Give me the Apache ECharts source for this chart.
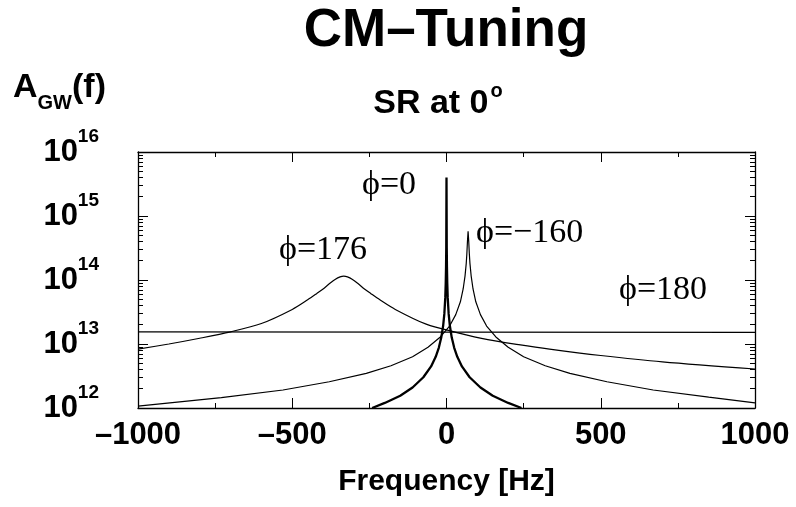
<!DOCTYPE html>
<html><head><meta charset="utf-8">
<script src="https://cdn.jsdelivr.net/npm/echarts@6/dist/echarts.min.js"></script>
<style>html,body{margin:0;padding:0;background:#fff}#c{width:796px;height:507px}</style>
</head><body><div id="c"></div>
<script>
// ---- data ----
const freq180 = [-1000, 0, 1000];
const amp180  = [1.55e13, 1.53e13, 1.52e13];

const freq176 = [-1000, -900, -800, -700, -600, -500, -450, -420, -400, -380, -360, -345, -333, -321, -306, -286, -266, -246, -216, -166, -66, 34, 134, 234, 334, 500, 700, 1000];
const amp176  = [8.32e12, 1.0e13, 1.23e13, 1.55e13, 2.09e13, 3.47e13, 4.90e13, 6.17e13, 7.24e13, 8.71e13, 1.03e14, 1.12e14, 1.15e14, 1.12e14, 1.03e14, 8.71e13, 7.24e13, 6.17e13, 4.90e13, 3.47e13, 2.04e13, 1.51e13, 1.17e13, 9.77e12, 8.32e12, 6.61e12, 5.25e12, 4.07e12];

const freq0 = [-241, -200, -150, -110, -75, -50, -35, -25, -17, -11, -7, -4, -2.5, -1.5, -0.8, 0, 0.8, 1.5, 2.5, 4, 7, 11, 17, 25, 35, 50, 75, 110, 150, 200, 243];
const amp0  = [1.0e12, 1.20e12, 1.55e12, 2.09e12, 3.02e12, 4.47e12, 6.31e12, 8.71e12, 1.26e13, 1.91e13, 2.95e13, 5.25e13, 8.91e13, 1.58e14, 3.16e14, 3.98e15, 3.16e14, 1.58e14, 8.91e13, 5.25e13, 2.95e13, 1.91e13, 1.26e13, 8.71e12, 6.31e12, 4.47e12, 3.02e12, 2.09e12, 1.55e12, 1.20e12, 1.0e12];

const freqM160 = [-1000, -730, -530, -380, -260, -180, -110, -60, -20, 10, 30, 45, 54, 60, 64, 66, 68, 70, 72, 74, 76, 80, 86, 95, 110, 130, 160, 200, 250, 320, 400, 520, 670, 850, 1000];
const ampM160  = [1.07e12, 1.45e12, 1.91e12, 2.57e12, 3.47e12, 4.57e12, 6.31e12, 8.91e12, 1.29e13, 1.91e13, 2.88e13, 4.57e13, 7.24e13, 1.15e14, 1.82e14, 2.57e14, 4.07e14, 5.75e14, 4.07e14, 2.57e14, 1.82e14, 1.15e14, 7.24e13, 4.57e13, 2.88e13, 1.91e13, 1.29e13, 8.91e12, 6.31e12, 4.57e12, 3.47e12, 2.57e12, 1.91e12, 1.48e12, 1.20e12];

const xTickLabels = {'-1000':'\u20131000','-500':'\u2013500','0':'0','500':'500','1000':'1000'};
const yExponents = [12, 13, 14, 15, 16];
const curveLabels = ['\u03D5=0', '\u03D5=176', '\u03D5=\u2212160', '\u03D5=180'];

// minor log tick positions (log10 space) for helper axes
const minorLog = [];
for (let e = yExponents[0]; e < yExponents[yExponents.length - 1]; e++) {
  for (let m = 2; m <= 9; m++) minorLog.push(e + Math.log10(m));
}

const zip = (xs, ys) => xs.map((x, i) => [x, ys[i]]);

const SANS = '"Liberation Sans", Arial, Helvetica, sans-serif';
const SERIF = '"Liberation Serif", "Times New Roman", "DejaVu Serif", serif';

const chart = echarts.init(document.getElementById('c'), null, {renderer: 'canvas'});

const lineBase = {type: 'line', showSymbol: false, symbol: 'none', xAxisIndex: 0, yAxisIndex: 0,
  lineStyle: {color: '#000', width: 1.2}, animation: false, silent: true, clip: true};

const yMajor = (pos, showLabel) => ({
  type: 'log', logBase: 10, min: 1e12, max: 1e16, position: pos,
  axisLine: {show: true, onZero: false, lineStyle: {color: '#000', width: 1.3}},
  axisTick: {show: true, inside: true, length: 10, lineStyle: {color: '#000', width: 1}},
  splitLine: {show: false},
  axisLabel: showLabel ? {
    show: true, margin: 39, align: 'right',
    formatter: v => '{b|10}{s|' + Math.round(Math.log10(v)) + '}',
    rich: {
      b: {fontFamily: SANS, fontWeight: 'bold', fontSize: 31, lineHeight: 31, color: '#000', verticalAlign: 'middle'},
      s: {fontFamily: SANS, fontWeight: 'bold', fontSize: 19, lineHeight: 19, color: '#000', verticalAlign: 'middle', padding: [0, 0, 30, 0]}
    }
  } : {show: false}
});
const yMinor = pos => ({
  type: 'value', min: 12, max: 16, position: pos,
  axisLine: {show: false, onZero: false},
  axisTick: {show: true, inside: true, length: 5, customValues: minorLog, lineStyle: {color: '#000', width: 1}},
  axisLabel: {show: false}, splitLine: {show: false}
});
const xAx = (pos, showLabel) => ({
  type: 'value', min: -1000, max: 1000, interval: 500, position: pos,
  axisLine: {show: true, onZero: false, lineStyle: {color: '#000', width: 1.3}},
  axisTick: {show: true, inside: true, length: 10, lineStyle: {color: '#000', width: 1}},
  minorTick: {show: true, splitNumber: 2, length: 5, lineStyle: {color: '#000', width: 1}},
  splitLine: {show: false}, minorSplitLine: {show: false},
  axisLabel: showLabel ? {
    show: true, margin: 12, showMinLabel: true, showMaxLabel: true, hideOverlap: false,
    fontFamily: SANS, fontWeight: 'bold', fontSize: 31, color: '#000',
    formatter: v => xTickLabels[String(v)] ?? String(v)
  } : {show: false},
  name: showLabel ? 'Frequency [Hz]' : '',
  nameLocation: 'middle', nameGap: 59,
  nameTextStyle: {fontFamily: SANS, fontWeight: 'bold', fontSize: 30, color: '#000'}
});

chart.setOption({
  animation: false,
  backgroundColor: '#fff',
  grid: {left: 138, right: 41, top: 152, bottom: 99, containLabel: false},
  xAxis: [xAx('bottom', true), xAx('top', false)],
  yAxis: [yMajor('left', true), yMinor('left'), yMajor('right', false), yMinor('right')],
  series: [
    Object.assign({}, lineBase, {name: 'phi180', data: zip(freq180, amp180)}),
    Object.assign({}, lineBase, {name: 'phi176', data: zip(freq176, amp176), smooth: 0.3}),
    Object.assign({}, lineBase, {name: 'phiM160', data: zip(freqM160, ampM160)}),
    Object.assign({}, lineBase, {name: 'phi0', data: zip(freq0, amp0), lineStyle: {color: '#000', width: 2.3}})
  ],
  graphic: [
    {type: 'text', x: 446, y: 31, style: {text: 'CM\u2013Tuning', font: 'bold 53px ' + SANS, fill: '#000', textAlign: 'center', textVerticalAlign: 'middle'}},
    {type: 'text', x: 438, y: 104, style: {text: '{m|SR at 0}{d|o}', fill: '#000', textAlign: 'center', textVerticalAlign: 'middle',
      rich: {m: {font: 'bold 34px ' + SANS, lineHeight: 34, verticalAlign: 'middle'},
             d: {font: 'bold 20px ' + SANS, lineHeight: 20, verticalAlign: 'middle', padding: [0, 0, 26, 2]}}}},
    {type: 'text', x: 13, y: 88, style: {text: '{a|A}{g|GW}{a|(f)}', fill: '#000', textAlign: 'left', textVerticalAlign: 'middle',
      rich: {a: {font: 'bold 34px ' + SANS, lineHeight: 34, verticalAlign: 'top'},
             g: {font: 'bold 20px ' + SANS, lineHeight: 20, verticalAlign: 'top', padding: [22, 0, 0, 0]}}}},
    {type: 'text', x: 362, y: 185, style: {text: curveLabels[0], font: '34px ' + SERIF, fill: '#000', textAlign: 'left', textVerticalAlign: 'middle'}},
    {type: 'text', x: 279, y: 250, style: {text: curveLabels[1], font: '34px ' + SERIF, fill: '#000', textAlign: 'left', textVerticalAlign: 'middle'}},
    {type: 'text', x: 476, y: 233, style: {text: curveLabels[2], font: '34px ' + SERIF, fill: '#000', textAlign: 'left', textVerticalAlign: 'middle'}},
    {type: 'text', x: 619, y: 290, style: {text: curveLabels[3], font: '34px ' + SERIF, fill: '#000', textAlign: 'left', textVerticalAlign: 'middle'}}
  ]
});
</script></body></html>
